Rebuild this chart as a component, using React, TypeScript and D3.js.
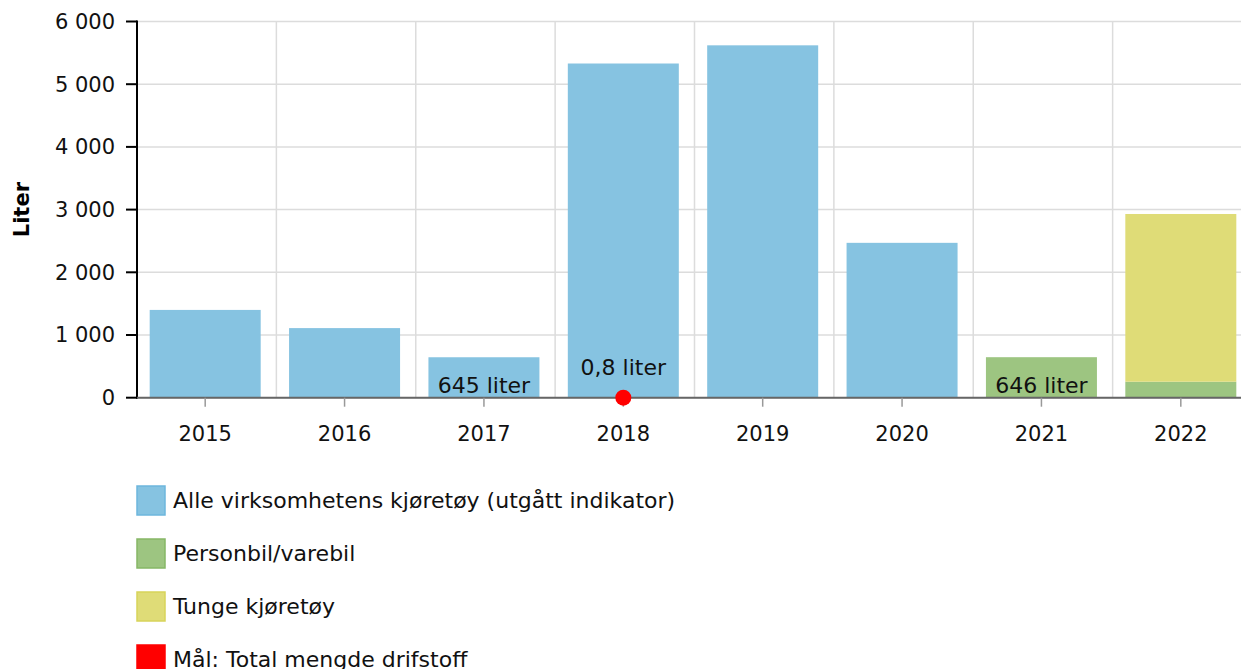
import React, { useEffect } from 'react';
import * as d3 from 'd3';

const years = ['2015', '2016', '2017', '2018', '2019', '2020', '2021', '2022'];
// Alle virksomhetens kjøretøy (utgått indikator)
const allVehicles = [1400, 1110, 645, 5330, 5620, 2470, 0, 0];
// Personbil/varebil
const cars = [0, 0, 0, 0, 0, 0, 646, 255];
// Tunge kjøretøy
const heavy = [0, 0, 0, 0, 0, 0, 0, 2675];
// Mål: Total mengde drifstoff
const targets = [{ year: '2018', value: 0.8, label: '0,8 liter' }];
const barLabels = [
  { year: '2017', text: '645 liter' },
  { year: '2021', text: '646 liter' },
];
const yTicks = [0, 1000, 2000, 3000, 4000, 5000, 6000];
const legendItems = [
  { name: 'Alle virksomhetens kjøretøy (utgått indikator)', fill: '#86c3e1', stroke: '#6db7dd' },
  { name: 'Personbil/varebil', fill: '#9dc581', stroke: '#86b766' },
  { name: 'Tunge kjøretøy', fill: '#dfdc77', stroke: '#d8d45a' },
  { name: 'Mål: Total mengde drifstoff', fill: '#ff0000', stroke: '#ff0000' },
];

const W = 1241;
const H = 669;
const FONT = 'DejaVu Sans, Verdana, sans-serif';

const fmt = (v: number) => d3.format(',')(v).replace(/,/g, ' ');

export default function App() {
  useEffect(() => {
    document.body.style.margin = '0';
  }, []);

  const x = d3.scaleBand().domain(years).range([137, 1252]).paddingInner(0).paddingOuter(0);
  const y = d3.scaleLinear().domain([0, 6000]).range([397.7, 21.5]);
  const step = x.step();
  const barW = 111;
  const cx = (yr: string) => (x(yr) as number) + step / 2 - 1.5;
  const bx = (yr: string) => cx(yr) - barW / 2;

  const stacks = years.map((yr, i) => {
    const segs: { y0: number; y1: number; fill: string }[] = [];
    let base = 0;
    [[allVehicles[i], '#86c3e1'], [cars[i], '#9dc581'], [heavy[i], '#dfdc77']].forEach(([v, c]) => {
      if ((v as number) > 0) {
        segs.push({ y0: base, y1: base + (v as number), fill: c as string });
        base += v as number;
      }
    });
    return { yr, segs };
  });

  return (
    <svg width={W} height={H} style={{ display: 'block' }} fontFamily={FONT}>
      {/* grid */}
      {yTicks.map(t => (
        <line key={'g' + t} x1={137} x2={W} y1={y(t)} y2={y(t)} stroke="#dcdcdc" strokeWidth={1.5} />
      ))}
      {years.slice(1).map(yr => (
        <line key={'v' + yr} x1={x(yr)} x2={x(yr)} y1={y(6000)} y2={y(0)} stroke="#dcdcdc" strokeWidth={1.5} />
      ))}
      {/* bars */}
      {stacks.map(s =>
        s.segs.map((seg, j) => (
          <rect key={s.yr + j} x={bx(s.yr)} width={barW} y={y(seg.y1)} height={y(seg.y0) - y(seg.y1)} fill={seg.fill} />
        ))
      )}
      {/* y axis */}
      <line x1={137} x2={137} y1={y(6000) - 1} y2={y(0) + 1} stroke="#000" strokeWidth={2} />
      {yTicks.map(t => (
        <g key={'t' + t}>
          <line x1={126} x2={137} y1={y(t)} y2={y(t)} stroke="#000" strokeWidth={2} />
          <text x={115} y={y(t)} dy="0.35em" textAnchor="end" fontSize={21} fill="#111">{fmt(t)}</text>
        </g>
      ))}
      <text transform={`translate(29,${(y(0) + y(6000)) / 2}) rotate(-90)`} textAnchor="middle" fontSize={21} fontWeight="bold" fill="#000">Liter</text>
      {/* x axis */}
      <line x1={137} x2={W} y1={y(0)} y2={y(0)} stroke="#666" strokeWidth={2} />
      {years.map(yr => (
        <g key={'x' + yr}>
          <line x1={cx(yr)} x2={cx(yr)} y1={y(0)} y2={y(0) + 9} stroke="#999" strokeWidth={1.5} />
          <text x={cx(yr)} y={441} textAnchor="middle" fontSize={21} fill="#111">{yr}</text>
        </g>
      ))}
      {/* bar labels */}
      {barLabels.map(b => (
        <text key={'l' + b.year} x={cx(b.year)} y={y(0) - 5} textAnchor="middle" fontSize={22} fill="#111">{b.text}</text>
      ))}
      {/* targets */}
      {targets.map(t => (
        <g key={'m' + t.year}>
          <circle cx={cx(t.year)} cy={y(t.value)} r={8} fill="#ff0000" />
          <text x={cx(t.year)} y={y(t.value) - 23} textAnchor="middle" fontSize={22} fill="#111">{t.label}</text>
        </g>
      ))}
      {/* legend */}
      {legendItems.map((l, i) => (
        <g key={'lg' + i} transform={`translate(0,${500 + i * 53})`}>
          <rect x={137} y={-14} width={28} height={29} fill={l.fill} stroke={l.stroke} strokeWidth={1.5} />
          <text x={173} y={0} dy="0.35em" fontSize={22} fill="#111">{l.name}</text>
        </g>
      ))}
    </svg>
  );
}
